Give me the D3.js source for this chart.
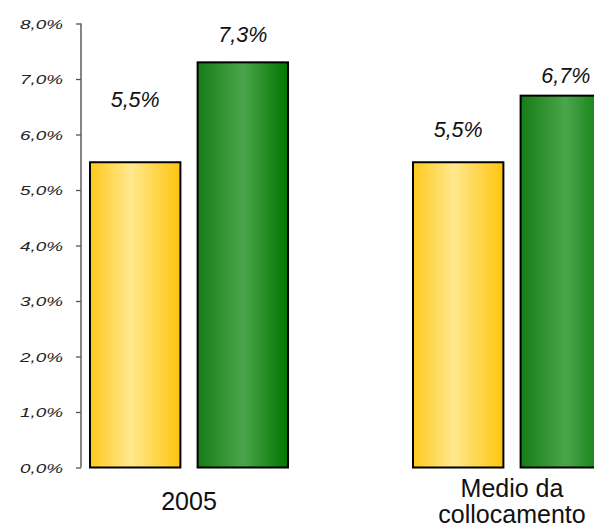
<!DOCTYPE html>
<html>
<head>
<meta charset="utf-8">
<script src="https://cdn.jsdelivr.net/npm/d3@7"></script>
<style>
  body { margin: 0; background: #fff; }
  text { font-family: "Liberation Sans", Arial, sans-serif; }
</style>
</head>
<body>
<div id="chart"></div>
<script>
// ==============================
// Data
// ==============================
var categories = ["2005", "Medio da collocamento"];
var series = ["giallo", "verde"];
var valuesGiallo = [5.5, 5.5];
var valuesVerde = [7.3, 6.7];
var yTicks = [0, 1, 2, 3, 4, 5, 6, 7, 8];

// distance of each value label above its bar (px), by category then series
var labelLift = [[55, 20], [25, 13]];

var svgWidth = 594;
var svgHeight = 532;

var svg = d3.select("#chart")
  .append("svg")
  .attr("width", svgWidth)
  .attr("height", svgHeight);

var itLocale = d3.formatLocale({ decimal: ",", thousands: ".", grouping: [3], currency: ["€", ""] });
var fmtTick = itLocale.format(".1f");

// scales
var y = d3.scaleLinear().domain([0, 8]).range([467.5, 23.5]);

var x0 = d3.scalePoint()
  .domain(categories)
  .range([189, 512]);

var x1 = d3.scaleBand()
  .domain(series)
  .range([-99, 99])
  .paddingInner(0.16);

// gradients
var defs = svg.append("defs");
function addGradient(id, stops) {
  var g = defs.append("linearGradient")
    .attr("id", id)
    .attr("x1", "0%").attr("x2", "100%")
    .attr("y1", "0%").attr("y2", "0%");
  stops.forEach(function(s) {
    g.append("stop").attr("offset", s[0]).attr("stop-color", s[1]);
  });
}
addGradient("grad-giallo", [["0%", "#FFC91C"], ["45%", "#FFE88E"], ["100%", "#FFC40E"]]);
addGradient("grad-verde", [["0%", "#157D15"], ["50%", "#4CA54C"], ["100%", "#007600"]]);

// y axis
var leftAxis = d3.axisLeft(y)
  .tickValues(yTicks)
  .tickSize(5)
  .tickFormat(d => fmtTick(d) + "%");

var yAxis = svg.append("g")
  .attr("transform", "translate(81, 0)")
  .call(leftAxis);

yAxis.select(".domain")
  .attr("stroke", "#858585")
  .attr("stroke-width", 2)
  .attr("d", "M0," + y(8) + "V" + y(0));

yAxis.selectAll(".tick line")
  .attr("stroke", "#555")
  .attr("stroke-width", 1.3);

// tick labels are drawn wide in the original, stretch them horizontally
yAxis.selectAll(".tick text")
  .attr("x", null)
  .attr("dy", null)
  .attr("fill", "#222")
  .attr("font-size", "13px")
  .attr("font-style", "italic")
  .attr("text-anchor", "end")
  .attr("transform", "translate(-18, 4.8) scale(1.45, 1)");

// bars
var rows = categories.map(function(c, i) {
  return [
    { cat: c, ci: i, si: 0, key: series[0], value: valuesGiallo[i] },
    { cat: c, ci: i, si: 1, key: series[1], value: valuesVerde[i] }
  ];
});
var flat = d3.merge(rows);

svg.selectAll("rect.bar")
  .data(flat)
  .enter()
  .append("rect")
  .attr("class", "bar")
  .attr("x", d => x0(d.cat) + x1(d.key))
  .attr("y", d => y(d.value))
  .attr("width", x1.bandwidth())
  .attr("height", d => y(0) - y(d.value))
  .attr("fill", d => "url(#grad-" + d.key + ")")
  .attr("stroke", "#000")
  .attr("stroke-width", 2);

// value labels
svg.selectAll("text.val")
  .data(flat)
  .enter()
  .append("text")
  .attr("class", "val")
  .attr("x", d => x0(d.cat) + x1(d.key) + x1.bandwidth() / 2)
  .attr("y", d => y(d.value) - labelLift[d.ci][d.si])
  .attr("text-anchor", "middle")
  .attr("font-size", "21.5px")
  .attr("font-style", "italic")
  .attr("fill", "#111")
  .text(d => itLocale.format(".1f")(d.value) + "%");

// category labels (wrapped)
var catLines = [["2005"], ["Medio da", "collocamento"]];
categories.forEach(function(c, i) {
  var lines = catLines[i];
  var lineH = 26;
  var baseY = 510 - (lines.length - 1) * lineH / 2;
  var t = svg.append("text")
    .attr("text-anchor", "middle")
    .attr("font-size", "25px")
    .attr("fill", "#111");
  lines.forEach(function(l, k) {
    t.append("tspan")
      .attr("x", x0(c))
      .attr("y", baseY + k * lineH)
      .text(l);
  });
});
</script>
</body>
</html>
